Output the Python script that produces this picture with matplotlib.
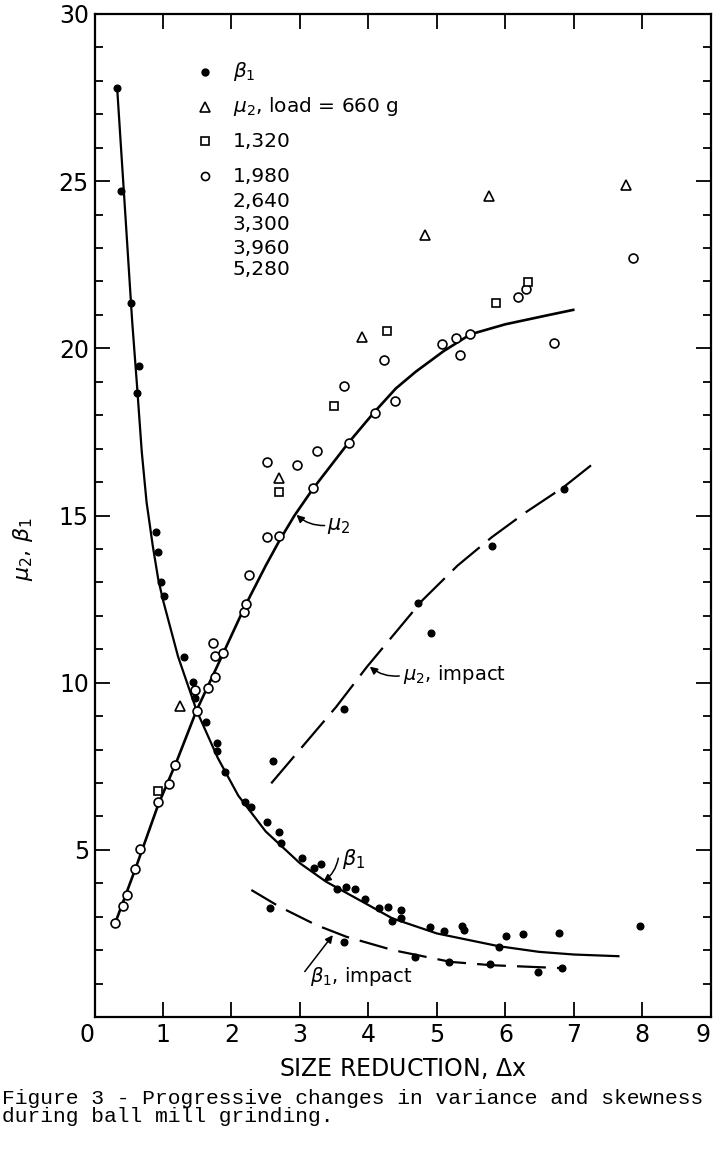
import matplotlib
matplotlib.use("Agg")
import matplotlib.pyplot as plt
from matplotlib.ticker import MultipleLocator, FuncFormatter

plt.rcParams['font.family'] = ['DejaVu Sans']
plt.rcParams['mathtext.fontset'] = 'dejavusans'

# beta_1 points (ball mill)
beta_x = [0.33, 0.38, 0.53, 0.65, 0.62, 0.90, 0.93, 0.97, 1.02, 1.31, 1.44, 1.47,
          1.63, 1.79, 1.79, 1.90, 2.20, 2.28, 2.52, 2.70, 2.73, 3.03, 3.20, 3.31,
          3.54, 3.67, 3.80, 3.95, 4.15, 4.29, 4.35, 4.48, 4.48, 4.90, 5.10, 5.36,
          5.40, 5.90, 6.01, 6.26, 6.78, 7.97]
beta_y = [27.78, 24.72, 21.35, 19.47, 18.66, 14.5, 13.9, 13.0, 12.6, 10.76, 10.03, 9.55,
          8.83, 8.19, 7.96, 7.34, 6.44, 6.27, 5.84, 5.54, 5.21, 4.75, 4.45, 4.58,
          3.82, 3.88, 3.83, 3.52, 3.25, 3.28, 2.88, 3.20, 2.97, 2.70, 2.57, 2.72,
          2.60, 2.10, 2.42, 2.47, 2.52, 2.72]

# mu_2, load = 660 g
tri_x = [1.25, 2.70, 3.90, 4.82, 5.76, 7.76]
tri_y = [9.30, 16.11, 20.33, 23.40, 24.56, 24.89]

# 1,320
sq_x = [0.93, 2.69, 3.50, 4.27, 5.86, 6.33]
sq_y = [6.77, 15.71, 18.28, 20.52, 21.37, 21.97]

# 1,980 ... 5,280
circ_x = [0.30, 0.41, 0.47, 0.59, 0.67, 0.93, 1.09, 1.18, 1.49, 1.47, 1.65, 1.76,
          1.76, 1.87, 1.73, 2.18, 2.21, 2.26, 2.52, 2.69, 2.52, 2.95, 3.19, 3.25,
          3.64, 3.71, 4.09, 4.23, 4.39, 5.07, 5.28, 5.34, 5.49, 6.18, 6.30, 6.71, 7.86]
circ_y = [2.80, 3.32, 3.65, 4.43, 5.02, 6.44, 6.96, 7.54, 9.16, 9.78, 9.85, 10.18,
          10.80, 10.88, 11.20, 12.11, 12.35, 13.22, 14.35, 14.39, 16.59, 16.51, 15.81, 16.93,
          18.88, 17.16, 18.08, 19.65, 18.43, 20.13, 20.32, 19.80, 20.42, 21.55, 21.77, 20.15, 22.71]

# impact points
mu_imp_x = [2.61, 3.64, 4.72, 4.91, 5.80, 6.85]
mu_imp_y = [7.66, 9.20, 12.37, 11.48, 14.10, 15.80]
beta_imp_x = [2.56, 3.64, 4.68, 5.17, 5.78, 6.47, 6.83]
beta_imp_y = [3.27, 2.25, 1.80, 1.64, 1.58, 1.36, 1.46]

# fitted curves
beta_cx = [0.33, 0.45, 0.55, 0.62, 0.69, 0.76, 0.85, 0.93, 1.00, 1.22, 1.49, 1.80,
           2.10, 2.50, 3.00, 3.38, 4.00, 4.35, 5.00, 5.90, 6.49, 7.00, 7.65]
beta_cy = [27.8, 24.0, 20.8, 18.9, 16.9, 15.4, 14.1, 13.1, 12.47, 10.78, 9.17, 7.75,
           6.62, 5.55, 4.60, 4.05, 3.35, 2.95, 2.50, 2.12, 1.95, 1.87, 1.82]
mu_cx = [0.30, 0.60, 0.93, 1.20, 1.49, 1.85, 2.20, 2.50, 2.70, 2.92, 3.19, 3.71,
         4.08, 4.40, 4.69, 5.10, 5.49, 6.00, 6.64, 6.99]
mu_cy = [2.80, 4.45, 6.35, 7.65, 9.17, 10.75, 12.30, 13.50, 14.25, 15.00, 15.80, 17.18,
         18.08, 18.80, 19.30, 19.92, 20.42, 20.72, 21.00, 21.15]
mu_imp_cx = [2.58, 3.53, 3.98, 4.79, 5.30, 5.80, 6.30, 6.85, 7.25]
mu_imp_cy = [6.99, 9.28, 10.48, 12.47, 13.50, 14.35, 15.10, 15.85, 16.50]
beta_imp_cx = [2.29, 2.70, 3.24, 3.68, 4.36, 5.20, 5.80, 6.86]
beta_imp_cy = [3.80, 3.30, 2.75, 2.40, 2.00, 1.65, 1.55, 1.46]

legend_labels = [r'$\beta_1$', r'$\mu_2$, load = 660 g', '1,320', '1,980',
                 '2,640', '3,300', '3,960', '5,280']
legend_markers = ['o', '^', 's', 'o', None, None, None, None]
legend_fill = ['black', 'white', 'white', 'white', None, None, None, None]

fig = plt.figure(figsize=(7.15, 11.56), dpi=100)
ax = fig.add_axes([0.1322, 0.1202, 0.862, 0.8677])

lw = 1.6
ax.plot(beta_cx, beta_cy, color='black', lw=lw, zorder=2)
ax.plot(mu_cx, mu_cy, color='black', lw=lw + 0.3, zorder=2)
ax.plot(mu_imp_cx, mu_imp_cy, color='black', lw=lw, dashes=(16, 5),
        dash_capstyle='butt', zorder=2)
ax.plot(beta_imp_cx, beta_imp_cy, color='black', lw=lw, dashes=(13, 5),
        dash_capstyle='butt', zorder=2)

ax.plot(beta_x, beta_y, 'o', ms=4.8, color='black', zorder=3)
ax.plot(mu_imp_x, mu_imp_y, 'o', ms=4.8, color='black', zorder=3)
ax.plot(beta_imp_x, beta_imp_y, 'o', ms=4.8, color='black', zorder=3)
ax.plot(circ_x, circ_y, 'o', ms=6.4, mfc='white', mec='black', mew=1.2, zorder=4)
ax.plot(sq_x, sq_y, 's', ms=5.8, mfc='white', mec='black', mew=1.2, zorder=4)
ax.plot(tri_x, tri_y, '^', ms=7.2, mfc='white', mec='black', mew=1.2, zorder=4)

# legend drawn by hand
leg_y = [28.27, 27.23, 26.19, 25.15, 24.4, 23.7, 23.0, 22.35]
for lab, mk, fc, yy in zip(legend_labels, legend_markers, legend_fill, leg_y):
    if mk is not None:
        ms = 4.8 if fc == 'black' else (7.2 if mk == '^' else 5.8)
        ax.plot([1.61], [yy], mk, ms=ms, mfc=fc, mec='black', mew=1.2)
    ax.text(2.02, yy, lab, fontsize=14.5, va='center', ha='left')

# curve labels
arrow = dict(arrowstyle='-|>', color='black', lw=1.1, mutation_scale=11,
             shrinkA=0, shrinkB=0, connectionstyle='arc3,rad=-0.2')
ax.annotate('', xy=(2.95, 15.02), xytext=(3.36, 14.7), arrowprops=arrow)
ax.text(3.4, 14.7, r'$\mu_2$', fontsize=15, va='center', ha='left')
ax.annotate('', xy=(3.34, 4.05), xytext=(3.56, 4.75), arrowprops=arrow)
ax.text(3.62, 4.72, r'$\beta_1$', fontsize=15, va='center', ha='left')
ax.annotate('', xy=(4.02, 10.48), xytext=(4.45, 10.2), arrowprops=arrow)
ax.text(4.5, 10.25, r'$\mu_2$, impact', fontsize=14, va='center', ha='left')
ax.annotate('', xy=(3.48, 2.45), xytext=(3.07, 1.36),
            arrowprops=dict(arrow, connectionstyle='arc3,rad=0'))
ax.text(3.15, 1.2, r'$\beta_1$, impact', fontsize=14, va='center', ha='left')

ax.set_xlim(0, 9)
ax.set_ylim(0, 30)
ax.set_xticks(range(10))
ax.set_xticklabels([str(i) for i in range(10)])
ax.yaxis.set_major_locator(MultipleLocator(5))
ax.yaxis.set_minor_locator(MultipleLocator(1))
ax.yaxis.set_major_formatter(FuncFormatter(lambda v, p: '' if v <= 0 else f'{v:.0f}'))
ax.tick_params(which='both', direction='in', top=True, right=True,
               width=1.3, labelsize=17, pad=4)
ax.tick_params(which='major', length=11)
ax.tick_params(which='minor', length=6)
for lab in ax.get_xticklabels():
    if lab.get_text() in ('0', '9'):
        lab.set_horizontalalignment('right')
for sp in ax.spines.values():
    sp.set_linewidth(1.6)

ax.set_xlabel(r'SIZE REDUCTION, $\Delta$x', fontsize=17, labelpad=7)
ax.set_ylabel(r'$\mu_2$, $\beta_1$', fontsize=16)
ax.yaxis.set_label_coords(-0.096, 0.466)

fig.text(0.003, 0.042, 'Figure 3 - Progressive changes in variance and skewness\n'
         'during ball mill grinding.', family='Liberation Mono', fontsize=15.3,
         va='center', ha='left', linespacing=0.88)

fig.savefig('out.png', dpi=100)
